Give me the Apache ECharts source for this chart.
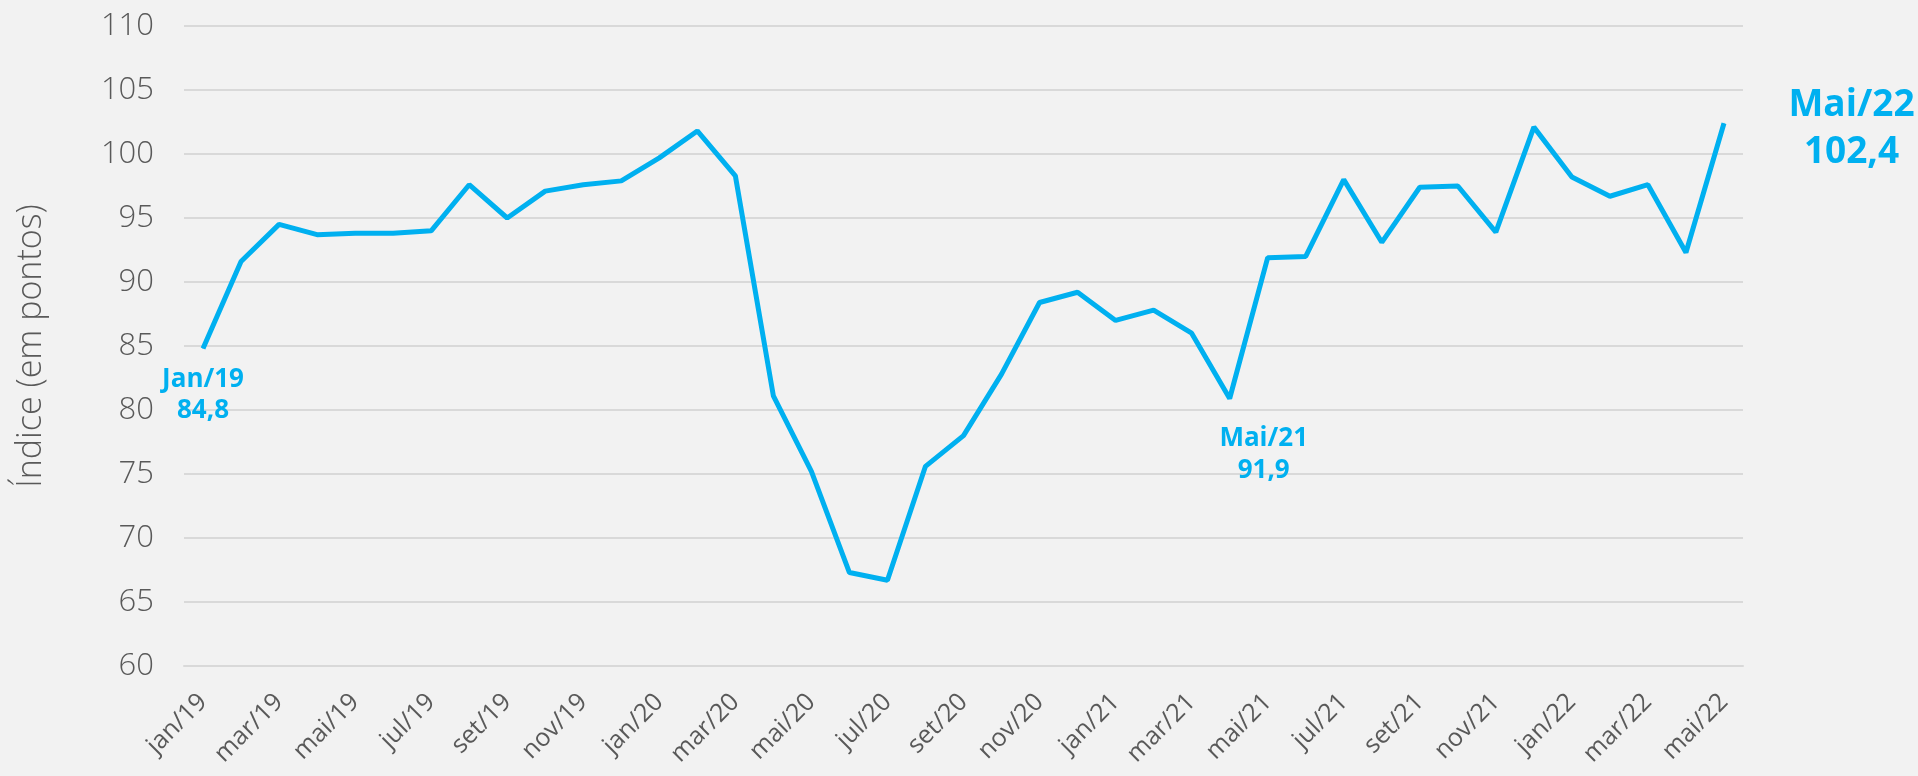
<!DOCTYPE html>
<html>
<head>
<meta charset="utf-8">
<script src="https://cdn.jsdelivr.net/npm/echarts@6/dist/echarts.min.js"></script>
<style>
  html, body { margin: 0; padding: 0; background: #f2f2f2; }
  #chart { width: 1918px; height: 776px; }
</style>
</head>
<body>
<div id="chart"></div>
<script>
// meses (jan/19 .. mai/22)
const months = [
  "jan/19", "fev/19", "mar/19", "abr/19", "mai/19", "jun/19", "jul/19", "ago/19", "set/19", "out/19", "nov/19", "dez/19",
  "jan/20", "fev/20", "mar/20", "abr/20", "mai/20", "jun/20", "jul/20", "ago/20", "set/20", "out/20", "nov/20", "dez/20",
  "jan/21", "fev/21", "mar/21", "abr/21", "mai/21", "jun/21", "jul/21", "ago/21", "set/21", "out/21", "nov/21", "dez/21",
  "jan/22", "fev/22", "mar/22", "abr/22", "mai/22"
];
// índice (em pontos)
const indexValues = [
  84.8, 91.6, 94.5, 93.7, 93.8, 93.8, 94.0, 97.6, 95.0, 97.1, 97.6, 97.9,
  99.7, 101.8, 98.3, 81.1, 75.2, 67.3, 66.7, 75.6, 78.0, 82.8, 88.4, 89.2,
  87.0, 87.8, 86.0, 80.9, 91.9, 92.0, 98.0, 93.1, 97.4, 97.5, 93.9, 102.1,
  98.2, 96.7, 97.6, 92.3, 102.4
];
// destaques
const highlightMonths = ["Jan/19", "Mai/21", "Mai/22"];
const highlightValues = ["84,8", "91,9", "102,4"];

const yMin = 60;
const yMax = 110;
const yStep = 5;

const blue = "#00b0f0";
const grey = "#595959";
const lineGrey = "#d9d9d9";

// posição de cada rótulo (por destaque)
const labelStyles = [
  { position: "bottom", offset: [0, 10], fontSize: 26, lineHeight: 31 },
  { position: "bottom", offset: [-4, 159], fontSize: 26, lineHeight: 32 },
  { position: "right", offset: [122, 6], fontSize: 37, lineHeight: 47 },
];
const highlightIdx = highlightMonths.map((m) => months.indexOf(m.toLowerCase()));

const seriesData = indexValues.map((v, i) => {
  const k = highlightIdx.indexOf(i);
  if (k < 0) return v;
  const st = labelStyles[k];
  return {
    value: v,
    label: {
      show: true,
      position: st.position,
      offset: st.offset,
      formatter: highlightMonths[k] + "\n" + highlightValues[k],
      color: blue,
      fontFamily: "Open Sans",
      fontWeight: "bold",
      fontSize: st.fontSize,
      lineHeight: st.lineHeight,
      align: "center",
    },
  };
});

const chart = echarts.init(document.getElementById("chart"));
const option = {
  backgroundColor: "#f2f2f2",
  animation: false,
  grid: { left: 184, right: 175, top: 26, bottom: 110 },
  xAxis: {
    type: "category",
    data: months,
    boundaryGap: true,
    axisLine: { lineStyle: { color: lineGrey, width: 2 } },
    axisTick: { interval: 0, length: 9, lineStyle: { color: lineGrey, width: 2 } },
    axisLabel: {
      interval: 1,
      rotate: 45,
      margin: 32,
      color: grey,
      fontFamily: "Open Sans",
      fontSize: 25,
    },
  },
  yAxis: {
    type: "value",
    min: yMin,
    max: yMax,
    interval: yStep,
    name: "Índice (em pontos)",
    nameLocation: "middle",
    nameGap: 136,
    nameTextStyle: { color: grey, fontFamily: "Open Sans", fontWeight: 300, fontSize: 34 },
    axisLine: { show: false },
    axisTick: { show: false },
    axisLabel: { color: grey, fontFamily: "Open Sans", fontWeight: 300, fontSize: 31, margin: 30 },
    splitLine: { lineStyle: { color: lineGrey, width: 2 } },
  },
  series: [
    {
      type: "line",
      data: seriesData,
      symbol: "circle",
      symbolSize: 1,
      showSymbol: true,
      lineStyle: { color: blue, width: 5 },
      itemStyle: { color: blue },
    },
  ],
};
option && chart.setOption(option);
</script>
</body>
</html>
